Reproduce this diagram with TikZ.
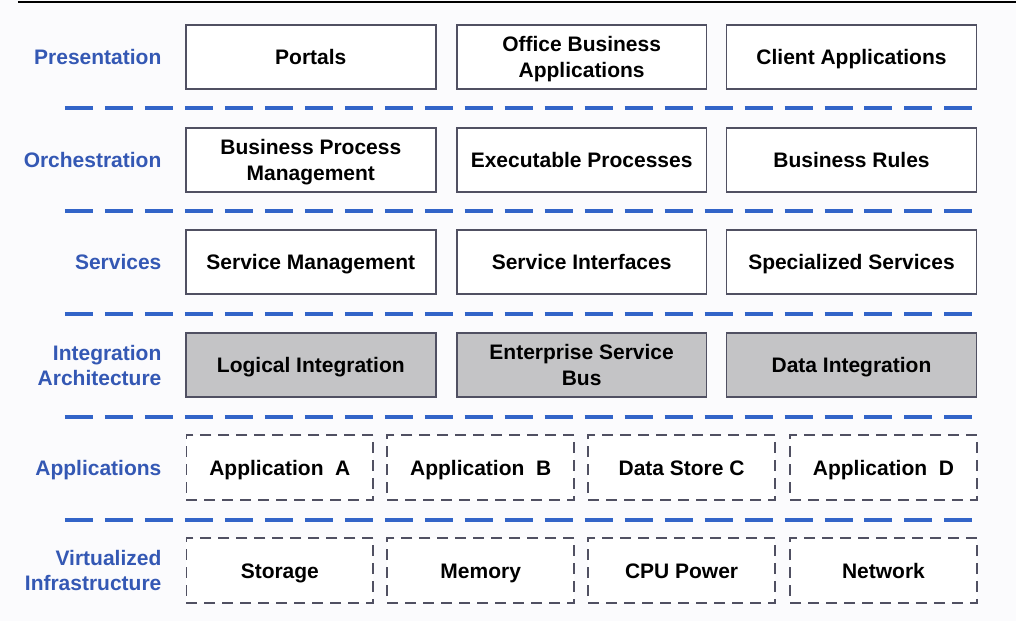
\documentclass[tikz,border=0pt]{standalone}
\usepackage{fontspec}
\setmainfont{Liberation Sans}
\usepackage{xcolor}
\usepackage{tikz}
\usetikzlibrary{positioning,calc}

\definecolor{layerblue}{RGB}{52,88,180}
\definecolor{sepblue}{RGB}{50,100,200}
\definecolor{boxline}{RGB}{80,80,98}
\definecolor{intgray}{RGB}{196,196,198}
\definecolor{paper}{RGB}{251,251,253}

\newcommand{\capstrut}{\rule[-5pt]{0pt}{25pt}}
\newcommand{\tallstrut}{\rule[-5pt]{0pt}{50.5pt}}

\tikzset{
  layer/.style={anchor=east, align=right, text=layerblue, font=\bfseries\fontsize{21}{25}\selectfont,
    execute at begin node=\capstrut, execute at end node=\capstrut},
  block/.style={draw=boxline, line width=1.6pt, fill=white, minimum width=250pt, minimum height=64pt, inner sep=0pt, align=center, font=\bfseries\fontsize{21}{26}\selectfont,
    execute at begin node=\capstrut, execute at end node=\capstrut},
  intblock/.style={block, fill=intgray},
  appblock/.style={block, dash pattern=on 11pt off 7pt, minimum width=187pt, minimum height=65pt},
  twoline/.style={execute at begin node=\tallstrut},
  sepline/.style={draw=sepblue, line width=4pt, dash pattern=on 28pt off 12pt}
}

\begin{document}
\begin{tikzpicture}[x=1pt,y=-1pt]
            % Background
            \fill[paper] (0,0) rectangle (1017,621);
            \draw[line width=1.2pt] (18,2) -- (1017,2);

            % Presentation
            \node[layer] (presentation) at (165,57) {Presentation};
            \node[block] (portals) at (311,57) {Portals};
            \node[block, twoline] (office) at (582,57) {Office Business\\Applications};
            \node[block] (client) at (852,57) {Client Applications};
            \draw[sepline] (65,108) -- (975,108);

            % Orchestration
            \node[layer] (orchestration) at (165,160) {Orchestration};
            \node[block, twoline] (bpm) at (311,160) {Business Process\\Management};
            \node[block] (executable) at (582,160) {Executable Processes};
            \node[block] (rules) at (852,160) {Business Rules};
            \draw[sepline] (65,211) -- (975,211);

            % Services
            \node[layer] (services) at (165,262) {Services};
            \node[block] (svcmgmt) at (311,262) {Service Management};
            \node[block] (svcif) at (582,262) {Service Interfaces};
            \node[block] (specialized) at (852,262) {Specialized Services};
            \draw[sepline] (65,314) -- (980,314);

            % Integration Architecture
            \node[layer, twoline] (integration) at (165,365) {Integration\\Architecture};
            \node[intblock] (logical) at (311,365) {Logical Integration};
            \node[intblock, twoline] (esb) at (582,365) {Enterprise Service\\Bus};
            \node[intblock] (dataint) at (852,365) {Data Integration};
            \draw[sepline] (65,417) -- (975,417);

            % Applications
            \node[layer] (applications) at (165,468) {Applications};
            \node[appblock] (appa) at (280,468) {Application~~A};
            \node[appblock] (appb) at (481,468) {Application~~B};
            \node[appblock] (storec) at (682,468) {Data Store C};
            \node[appblock] (appd) at (884,468) {Application~~D};
            \draw[sepline] (65,520) -- (975,520);

            % Virtualized Infrastructure
            \node[layer, twoline] (virtualized) at (165,571) {Virtualized\\Infrastructure};
            \node[appblock] (storage) at (280,571) {Storage};
            \node[appblock] (memory) at (481,571) {Memory};
            \node[appblock] (cpu) at (682,571) {CPU Power};
            \node[appblock] (network) at (884,571) {Network};
\end{tikzpicture}
\end{document}
